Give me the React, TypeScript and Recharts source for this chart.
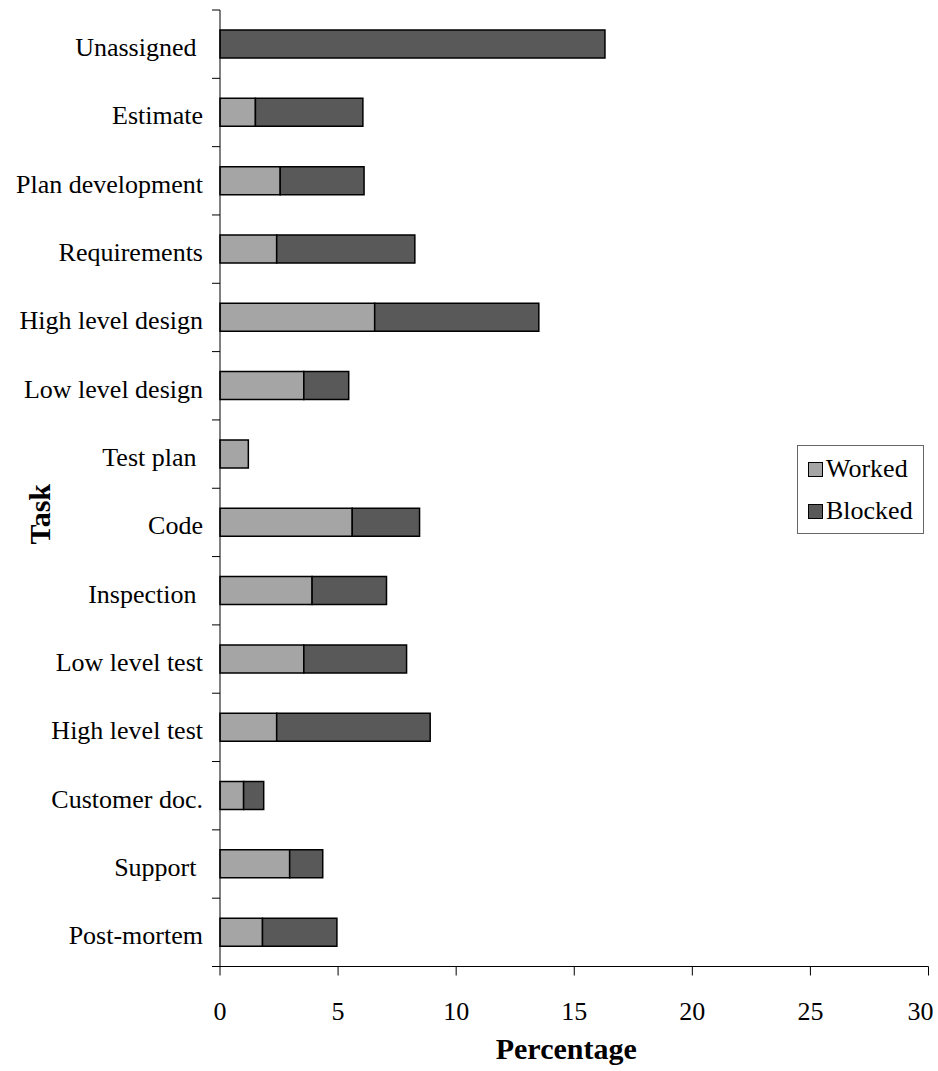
import { BarChart, Bar, XAxis, YAxis, Legend, Label } from "recharts";

// Share of effort per task, split into worked and blocked time (%)
const tasks = [
  "Unassigned ",
  "Estimate",
  "Plan development",
  "Requirements",
  "High level design",
  "Low level design",
  "Test plan ",
  "Code",
  "Inspection ",
  "Low level test",
  "High level test",
  "Customer doc.",
  "Support ",
  "Post-mortem",
];
const worked = [0, 1.5, 2.55, 2.4, 6.55, 3.55, 1.2, 5.6, 3.9, 3.55, 2.4, 1.0, 2.95, 1.8];
const blocked = [16.3, 4.55, 3.55, 5.85, 6.95, 1.9, 0, 2.85, 3.15, 4.35, 6.5, 0.85, 1.4, 3.15];
const xTicks = [0, 5, 10, 15, 20, 25, 30];
const seriesNames = ["Worked", "Blocked"];

const data = tasks.map((task, i) => ({
  task,
  worked: worked[i],
  blocked: blocked[i],
}));

const FONT = "'Liberation Serif', 'Times New Roman', serif";
const CHART_W = 938;
const CHART_H = 1071;
const MARGIN_TOP = 10;
const MARGIN_RIGHT = 9.5;
const X_AXIS_H = 104.5;
const Y_AXIS_W = 220;
const Y_TICK = 8;
const Y_TICK_GAP = 9;
const BAND = (CHART_H - MARGIN_TOP - X_AXIS_H) / tasks.length;

const WORKED_FILL = "#a5a5a5";
const BLOCKED_FILL = "#595959";

// category labels sit mid-band, tick marks sit on the band boundaries
function TaskTick(props: any) {
  const { x, y, payload, index } = props;
  const axisX = x + Y_TICK + Y_TICK_GAP;
  const top = y - BAND / 2;
  const bottom = y + BAND / 2;
  return (
    <g>
      <line x1={axisX - Y_TICK} x2={axisX} y1={top} y2={top} stroke='#000' />
      {index === tasks.length - 1 && (
        <line x1={axisX - Y_TICK} x2={axisX} y1={bottom} y2={bottom} stroke='#000' />
      )}
      <text
        x={x}
        y={y}
        dy={12}
        textAnchor='end'
        fill='#000'
        fontSize={26}
        fontFamily={FONT}
        style={{ whiteSpace: "pre" }}
      >
        {payload.value}
      </text>
    </g>
  );
}

// the last value label is pulled in so it stays inside the chart edge
function PercentTick(props: any) {
  const { x, y, payload, index } = props;
  const last = index === xTicks.length - 1;
  return (
    <text
      x={last ? x + 5 : x}
      y={y}
      dy={18.5}
      textAnchor={last ? "end" : "middle"}
      fill='#000'
      fontSize={26}
      fontFamily={FONT}
    >
      {payload.value}
    </text>
  );
}

function TaskTitle(props: any) {
  const { viewBox } = props;
  const cx = viewBox.x + 50;
  const cy = viewBox.y + viewBox.height / 2 + 26;
  return (
    <text
      x={cx}
      y={cy}
      transform={`rotate(-90, ${cx}, ${cy})`}
      textAnchor='middle'
      fill='#000'
      fontSize={30}
      fontWeight='bold'
      fontFamily={FONT}
    >
      Task
    </text>
  );
}

function LegendBox(props: any) {
  const { payload } = props;
  const items = seriesNames
    .map((name) => payload.find((p: any) => p.value === name))
    .filter(Boolean);
  return (
    <div
      style={{
        width: 125,
        height: 85,
        border: "1px solid #666",
        background: "#fff",
        paddingTop: 2,
        boxSizing: "content-box",
        fontFamily: FONT,
        fontSize: 26,
        color: "#000",
      }}
    >
      {items.map((entry: any) => (
        <div
          key={entry.value}
          style={{ height: 42, display: "flex", alignItems: "center", paddingLeft: 10 }}
        >
          <span
            style={{
              width: 13,
              height: 13,
              border: "1px solid #000",
              background: entry.color,
              marginRight: 3,
              display: "inline-block",
            }}
          />
          <span>{entry.value}</span>
        </div>
      ))}
    </div>
  );
}

export default function App() {
  return (
    <div style={{ position: "absolute", left: 0, top: 0, background: "#fff" }}>
      <BarChart
        width={CHART_W}
        height={CHART_H}
        data={data}
        layout='vertical'
        margin={{ top: MARGIN_TOP, right: MARGIN_RIGHT, bottom: 0, left: 0 }}
      >
        <XAxis
          type='number'
          domain={[0, 30]}
          ticks={xTicks}
          interval={0}
          height={X_AXIS_H}
          stroke='#000'
          tickSize={9}
          tickMargin={26}
          tick={<PercentTick />}
        >
          <Label
            value='Percentage'
            position='insideBottom'
            offset={12}
            dx={-8}
            fill='#000'
            fontSize={30}
            fontWeight='bold'
            fontFamily={FONT}
          />
        </XAxis>
        <YAxis
          type='category'
          dataKey='task'
          width={Y_AXIS_W}
          interval={0}
          stroke='#000'
          tickLine={false}
          tickSize={Y_TICK}
          tickMargin={Y_TICK_GAP}
          tick={<TaskTick />}
          label={<TaskTitle />}
        />
        <Legend
          layout='horizontal'
          align='center'
          verticalAlign='middle'
          wrapperStyle={{ left: 797, top: 445, width: 127, height: 87 }}
          content={<LegendBox />}
        />
        <Bar
          dataKey='worked'
          name='Worked'
          stackId='a'
          fill={WORKED_FILL}
          stroke='#000'
          strokeWidth={1.5}
          barSize={28}
          isAnimationActive={false}
        />
        <Bar
          dataKey='blocked'
          name='Blocked'
          stackId='a'
          fill={BLOCKED_FILL}
          stroke='#000'
          strokeWidth={1.5}
          barSize={28}
          isAnimationActive={false}
        />
      </BarChart>
    </div>
  );
}
